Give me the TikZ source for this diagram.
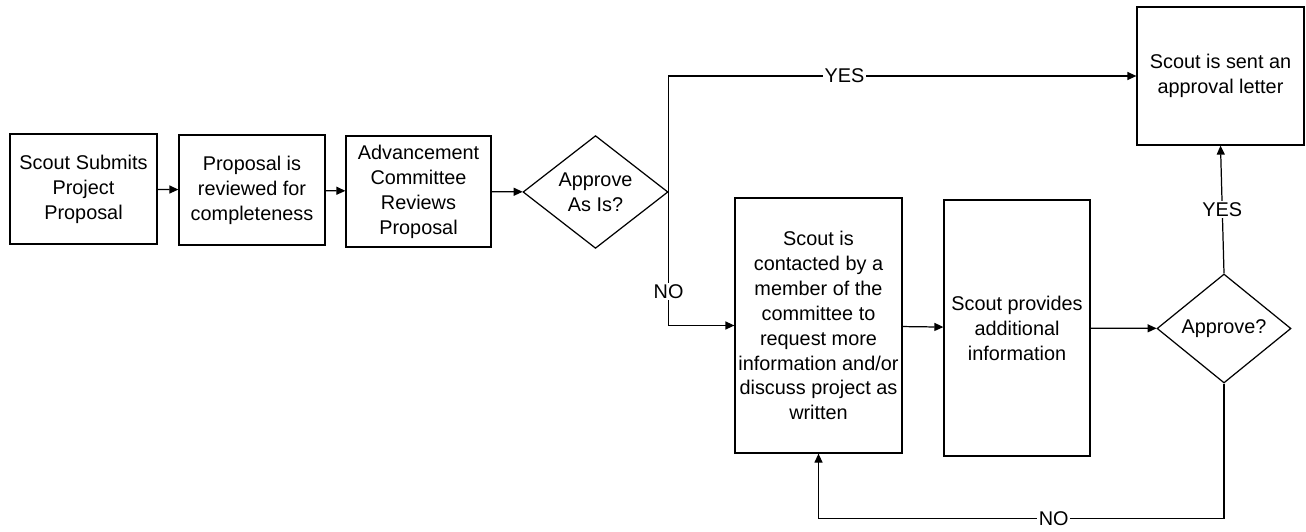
\documentclass[tikz,border=0pt]{standalone}
\usepackage{fontspec}
\setmainfont{Liberation Sans}
\usetikzlibrary{arrows.meta,shapes.geometric}
\tikzset{%
  proc/.style={draw,line width=0.7pt,align=center,inner sep=1pt,
    font=\fontsize{11.3}{14.2}\selectfont},
  decide/.style={draw,diamond,line width=0.7pt,align=center,inner sep=0pt,
    font=\fontsize{11.3}{14.2}\selectfont},
  flow/.style={line width=0.7pt,-{Triangle[length=1.8mm,width=1.6mm]}},
  tag/.style={fill=white,inner sep=1pt,font=\fontsize{11.3}{13}\selectfont},
}

\begin{document}
\begin{tikzpicture}
  \useasboundingbox (0,0) rectangle (26.12,10.62);
  \coordinate (back) at (16.37,0.25);

  % top row
  \node[proc,minimum width=2.94cm,minimum height=2.20cm] (box1) at (1.67,6.84) {Scout Submits\\Project\\Proposal};
  \node[proc,minimum width=2.92cm,minimum height=2.20cm] (box2) at (5.04,6.82) {Proposal is\\reviewed for\\completeness};
  \node[proc,minimum width=2.90cm,minimum height=2.22cm] (box3) at (8.37,6.79) {Advancement\\Committee\\Reviews\\Proposal};
  \node[decide,minimum width=2.90cm,minimum height=2.18cm] (ask) at (11.91,6.78) {Approve\\As Is?};
  \node[proc,minimum width=3.34cm,minimum height=2.76cm] (letter) at (24.41,9.10) {Scout is sent an\\approval letter};

  % lower row
  \node[proc,minimum width=3.34cm,minimum height=5.10cm] (contact) at (16.37,4.11) {Scout is\\contacted by a\\member of the\\committee to\\request more\\information and/or\\discuss project as\\written};
  \node[proc,minimum width=2.92cm,minimum height=5.12cm] (provide) at (20.34,4.06) {Scout provides\\additional\\information};
  \node[decide,minimum width=2.68cm,minimum height=2.18cm] (check) at (24.48,4.05) {Approve?};

  \foreach \from / \to in {box1/box2, box2/box3, box3/ask, contact/provide, provide/check}
  {
   \draw[flow] (\from) -- (\to);
  }

  \draw[flow] (ask.east) |- node[tag,pos=0.688] {YES} (letter.west);
  \draw[flow] (ask.east) |- node[tag,pos=0.373] {NO} (contact.west);
  \draw[flow] (check.north) -- node[tag] {YES} (letter.south);
  \draw[flow] (check.south) |- node[tag,pos=0.71] {NO} (back) -- (contact.south);

\end{tikzpicture}
\end{document}
